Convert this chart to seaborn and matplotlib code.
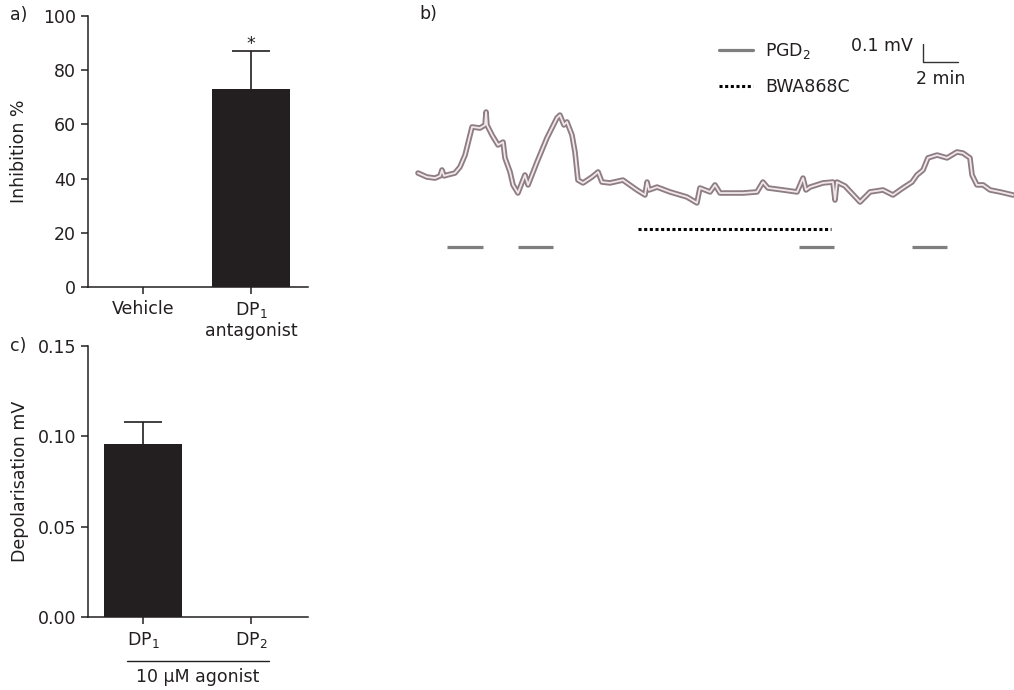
import numpy as np
import pandas as pd
import matplotlib
matplotlib.use("Agg")
import matplotlib.pyplot as plt
from matplotlib.lines import Line2D
import seaborn as sns

# ---------------- data ----------------
a_categories = ["Vehicle", "DP$_1$\nantagonist"]
a_values = [0.0, 73.0]
a_errors = [0.0, 14.0]
a_yticks = [0, 20, 40, 60, 80, 100]

c_categories = ["DP$_1$", "DP$_2$"]
c_values = [0.096, 0.0]
c_errors = [0.012, 0.0]
c_yticks = [0.00, 0.05, 0.10, 0.15]

# panel b recording: time (min) and membrane potential (mV, relative)
trace_t = [0.00, 0.51, 0.97, 1.26, 1.37, 1.49, 1.66, 2.11, 2.40, 2.69, 3.09, 3.54,
           3.83, 3.89, 3.94, 4.23, 4.57, 4.86, 4.97, 5.26, 5.43, 5.71, 6.11, 6.29,
           6.80, 7.37, 7.94, 8.11, 8.34, 8.51, 8.80, 8.97, 9.14, 9.43, 9.94, 10.29,
           10.51, 10.97, 11.71, 12.51, 12.97, 13.09, 13.20, 13.66, 14.40, 15.37,
           15.94, 16.11, 16.69, 16.97, 17.26, 17.66, 18.57, 19.37, 19.71, 20.00,
           20.86, 21.66, 22.00, 22.17, 22.40, 23.14, 23.71, 23.83, 23.94, 24.40,
           25.26, 25.83, 26.57, 27.14, 27.71, 28.23, 28.51, 28.86, 29.14, 29.66,
           30.23, 30.80, 31.14, 31.54, 31.66, 31.94, 32.29, 32.69, 33.26, 34.00]
trace_mv = [0.022, 0.000, -0.006, 0.006, 0.039, 0.006, 0.011, 0.022, 0.056, 0.122,
            0.278, 0.272, 0.289, 0.361, 0.289, 0.233, 0.178, 0.194, 0.106, 0.028,
            -0.044, -0.089, 0.011, -0.044, 0.083, 0.217, 0.328, 0.344, 0.289, 0.306,
            0.233, 0.139, -0.017, -0.033, 0.000, 0.028, -0.028, -0.033, -0.017,
            -0.072, -0.100, -0.028, -0.072, -0.056, -0.083, -0.111, -0.144, -0.061,
            -0.083, -0.044, -0.089, -0.089, -0.089, -0.083, -0.028, -0.061, -0.072,
            -0.083, -0.006, -0.072, -0.056, -0.033, -0.028, -0.128, -0.028, -0.050,
            -0.139, -0.083, -0.072, -0.100, -0.061, -0.028, 0.011, 0.039, 0.106,
            0.122, 0.106, 0.139, 0.133, 0.106, 0.011, -0.044, -0.044, -0.072,
            -0.083, -0.100]
pgd2_on = [1.66, 5.71, 21.77, 28.23]
pgd2_off = [3.71, 7.71, 23.77, 30.23]
bwa_on = [12.57]
bwa_off = [23.60]

# ---------------- style ----------------
sns.set_style("ticks")
plt.rcParams["font.family"] = ["DejaVu Sans"]
plt.rcParams["mathtext.fontset"] = "dejavusans"
plt.rcParams["mathtext.default"] = "regular"
FS = 12.5
dark = "#231f20"
plt.rcParams.update({
    "axes.edgecolor": dark, "axes.linewidth": 1.1,
    "xtick.color": dark, "ytick.color": dark,
    "xtick.major.width": 1.1, "ytick.major.width": 1.1,
    "xtick.major.size": 5, "ytick.major.size": 5,
    "xtick.labelsize": FS, "ytick.labelsize": FS,
    "text.color": dark, "axes.labelcolor": dark,
})

W, H = 1014, 690
fig = plt.figure(figsize=(W / 100, H / 100), dpi=100)

def rect(l, t, r, b):
    return [l / W, 1 - b / H, (r - l) / W, (b - t) / H]

def up_errorbars(ax, vals, errs, half_cap=0.18):
    for i, (v, e) in enumerate(zip(vals, errs)):
        if e > 0:
            ax.vlines(i, v, v + e, color=dark, lw=1.2)
            ax.hlines(v + e, i - half_cap, i + half_cap, color=dark, lw=1.2)

# ---------------- panel a ----------------
ax_a = fig.add_axes(rect(88, 16, 308, 287))
df_a = pd.DataFrame({"cat": a_categories, "val": a_values})
sns.barplot(data=df_a, x="cat", y="val", color=dark, saturation=1, width=0.72,
            errorbar=None, linewidth=0, ax=ax_a)
up_errorbars(ax_a, a_values, a_errors)
ax_a.set_xlim(-0.509, 1.528)
ax_a.set_ylim(0, 100)
ax_a.set_yticks(a_yticks)
ax_a.set_xlabel("")
ax_a.set_ylabel("Inhibition %", fontsize=FS, labelpad=11)
ax_a.text(1, a_values[1] + a_errors[1] - 0.5, "*", ha="center", va="bottom", fontsize=FS)
sns.despine(ax=ax_a)
ax_a.tick_params(axis="x", pad=4)

# ---------------- panel c ----------------
ax_c = fig.add_axes(rect(88, 346, 308, 617))
df_c = pd.DataFrame({"cat": c_categories, "val": c_values})
sns.barplot(data=df_c, x="cat", y="val", color=dark, saturation=1, width=0.73,
            errorbar=None, linewidth=0, ax=ax_c)
up_errorbars(ax_c, c_values, c_errors)
ax_c.set_xlim(-0.509, 1.528)
ax_c.set_ylim(0, 0.15)
ax_c.set_yticks(c_yticks)
ax_c.set_yticklabels([f"{v:.2f}" for v in c_yticks])
ax_c.set_xlabel("")
ax_c.set_ylabel("Depolarisation mV", fontsize=FS, labelpad=6)
sns.despine(ax=ax_c)
ax_c.tick_params(axis="x", pad=4)
ax_c.plot([-0.148, 1.167], [-0.162, -0.162], transform=ax_c.get_xaxis_transform(),
          color=dark, lw=1.0, clip_on=False)
ax_c.text(0.509, -0.222, "10 µM agonist", transform=ax_c.get_xaxis_transform(),
          ha="center", va="center", fontsize=FS)

# ---------------- panel b ----------------
ax_b = fig.add_axes(rect(410, 10, 1014, 260))
px_per_min, px_per_mv = 17.5, 180.0
ax_b.set_xlim((410 - 418) / px_per_min, (1014 - 418) / px_per_min)
ax_b.set_ylim((177 - 260) / px_per_mv, (177 - 10) / px_per_mv)
ax_b.axis("off")
df_b = pd.DataFrame({"t": trace_t, "mv": trace_mv})
sns.lineplot(data=df_b, x="t", y="mv", ax=ax_b, color="#8f7d85", lw=4.0,
             sort=False, solid_joinstyle="round")
sns.lineplot(data=df_b, x="t", y="mv", ax=ax_b, color="#f1e8ea", lw=1.3,
             sort=False, solid_joinstyle="round")
ax_b.set_xlabel(""); ax_b.set_ylabel("")
pgd_y = (177 - 247) / px_per_mv
bwa_y = (177 - 229) / px_per_mv
ax_b.hlines([pgd_y] * len(pgd2_on), pgd2_on, pgd2_off, color="#7f7f7f", lw=2.3)
ax_b.hlines([bwa_y] * len(bwa_on), bwa_on, bwa_off, color="black", lw=2.2,
            linestyles=[(0, (1, 0.85))])

# scale bar
sb_t = (923 - 418) / px_per_min
sb_v = (177 - 62) / px_per_mv
ax_b.plot([sb_t, sb_t, sb_t + 2], [sb_v + 0.1, sb_v, sb_v], color="#333333", lw=1.0)
ax_b.text(sb_t - 0.6, sb_v + 0.09, "0.1 mV", ha="right", va="center", fontsize=FS)
ax_b.text(sb_t + 1.0, sb_v - 0.095, "2 min", ha="center", va="center", fontsize=FS)

handles = [Line2D([], [], color="#7f7f7f", lw=2.3),
           Line2D([], [], color="black", lw=2.2, linestyle=(0, (1, 0.85)))]
fig.legend(handles, ["PGD$_2$", "BWA868C"], loc="upper left", frameon=False,
           bbox_to_anchor=(719 / W, 1 - 41 / H), bbox_transform=fig.transFigure,
           borderpad=0, borderaxespad=0, handlelength=1.95, handletextpad=0.7,
           labelspacing=1.0, fontsize=FS)

# panel letters
fig.text(10 / W, 1 - 15 / H, "a)", fontsize=FS, va="center", ha="left")
fig.text(419 / W, 1 - 14 / H, "b)", fontsize=FS, va="center", ha="left")
fig.text(10 / W, 1 - 346 / H, "c)", fontsize=FS, va="center", ha="left")

fig.savefig("out.png", dpi=100)
